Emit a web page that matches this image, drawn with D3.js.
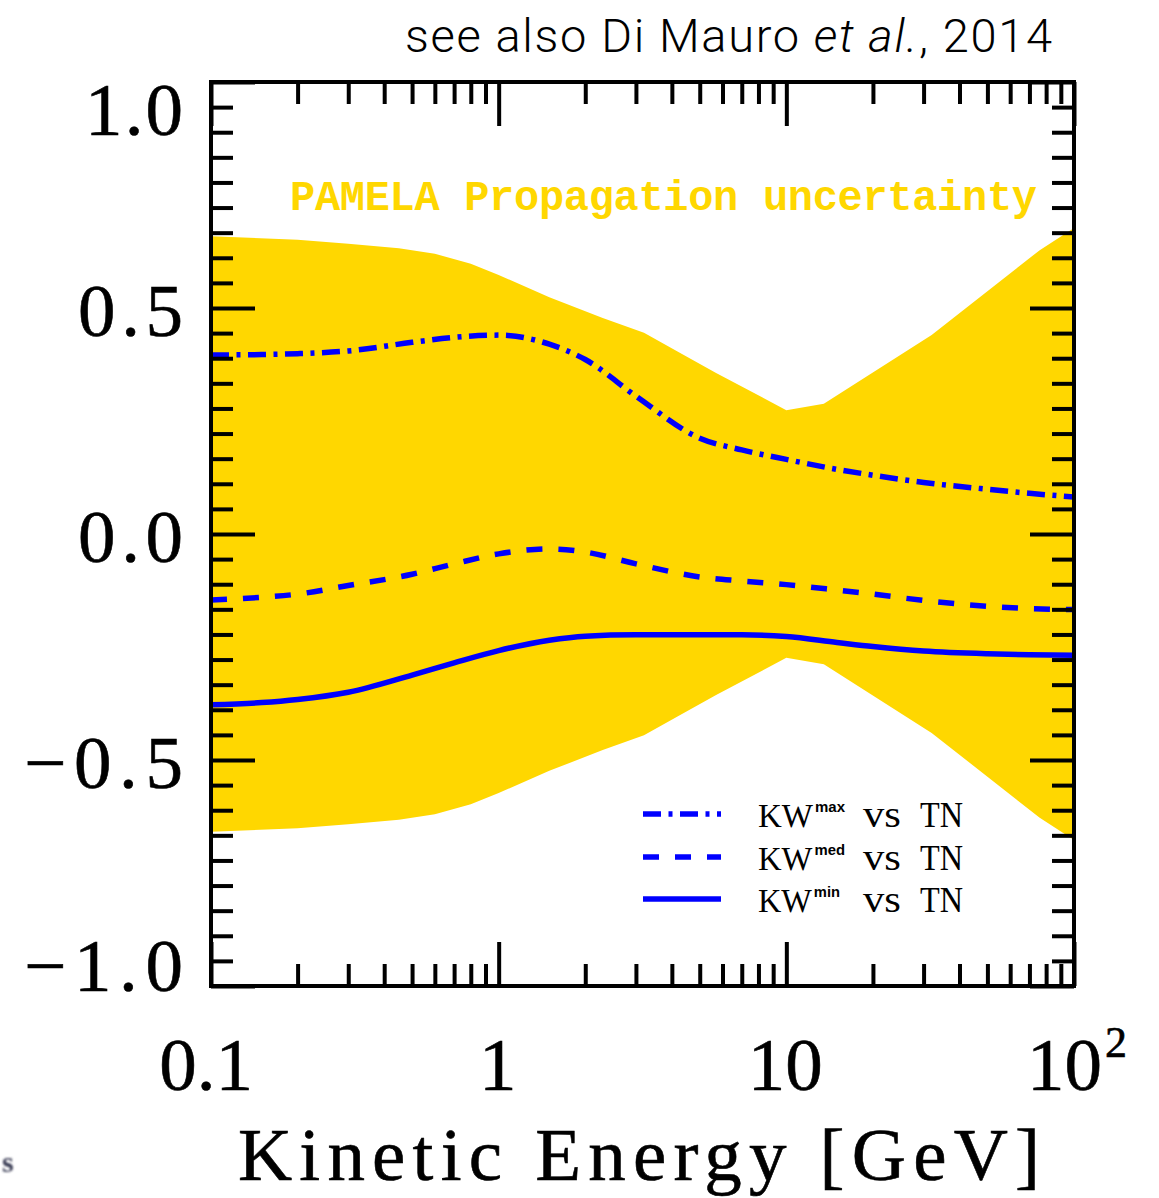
<!DOCTYPE html>
<html>
<head>
<meta charset="utf-8">
<script src="https://cdn.jsdelivr.net/npm/d3@7"></script>
<style>
  html, body { margin: 0; padding: 0; background: #ffffff; }
  svg { display: block; }
</style>
</head>
<body>
<svg id="chart" width="1159" height="1198"></svg>
<script>
// Kinetic energy grid [GeV] for the three KW vs TN curves
const energy = [0.1, 0.15, 0.2, 0.3, 0.5, 0.7, 1, 1.5, 2, 3, 5, 7, 10, 15, 20, 30, 50, 70, 100];
const kwMax = [0.396, 0.397, 0.399, 0.405, 0.424, 0.435, 0.440, 0.420, 0.386, 0.305, 0.212, 0.186, 0.165, 0.143, 0.130, 0.114, 0.099, 0.090, 0.082];
const kwMed = [-0.146, -0.140, -0.133, -0.114, -0.089, -0.066, -0.044, -0.033, -0.040, -0.066, -0.095, -0.104, -0.112, -0.124, -0.133, -0.147, -0.160, -0.165, -0.167];
const kwMin = [-0.378, -0.373, -0.366, -0.350, -0.312, -0.285, -0.258, -0.235, -0.226, -0.223, -0.223, -0.223, -0.227, -0.240, -0.249, -0.259, -0.265, -0.267, -0.268];

// Propagation uncertainty band
const bandEnergy = [0.1, 0.2, 0.3, 0.45, 0.6, 0.8, 1, 1.5, 2.3, 3.2, 4.2, 5.7, 10, 13.5, 32, 76, 100];
const bandUpper = [0.659, 0.651, 0.642, 0.632, 0.620, 0.598, 0.573, 0.524, 0.478, 0.445, 0.403, 0.356, 0.274, 0.288, 0.440, 0.628, 0.677];
const bandLower = [-0.659, -0.651, -0.642, -0.632, -0.620, -0.598, -0.573, -0.524, -0.478, -0.445, -0.403, -0.356, -0.274, -0.288, -0.440, -0.628, -0.677];

// Axis ticks and labels
const xTickValues = [0.1, 1, 10, 100];
const xTickLabels = ["0.1", "1", "10", "10"];
const xTickSups = ["", "", "", "2"];
const yTickValues = [1, 0.5, 0, -0.5, -1];
const yTickLabels = ["1.0", "0.5", "0.0", "\u22120.5", "\u22121.0"];

// Legend entries
const legendBase = ["KW", "KW", "KW"];
const legendSups = ["max", "med", "min"];
const legendRest = ["vs", "vs", "vs"];
const legendRef = ["TN", "TN", "TN"];

const svg = d3.select("#chart");
const L = 211, R = 1074, T = 82, B = 986;

const x = d3.scaleLog().domain([0.1, 100]).range([L, R]);
const y = d3.scaleLinear().domain([-1, 1]).range([B, T]);

const gold = "#FFD700";
const blue = "#0000FF";

const defs = svg.append("defs");
defs.append("clipPath").attr("id", "plotClip")
  .append("rect").attr("x", L).attr("y", T).attr("width", R - L).attr("height", B - T);
defs.append("filter").attr("id", "soft")
  .append("feGaussianBlur").attr("stdDeviation", 0.9);

// Band
const bandRows = bandEnergy.map((e, i) => ({ e, lo: bandLower[i], hi: bandUpper[i] }));
svg.append("path")
  .datum(bandRows)
  .attr("clip-path", "url(#plotClip)")
  .attr("fill", gold)
  .attr("d", d3.area().x(d => x(d.e)).y0(d => y(d.lo)).y1(d => y(d.hi)).curve(d3.curveLinear));

// Curves
const dashDot = "18,7.5,4,7.5";
const dashed = "16,16";
const curveDefs = [
  { values: kwMax, dash: dashDot },
  { values: kwMed, dash: dashed },
  { values: kwMin, dash: null }
];
const line = d3.line().x(d => x(d.e)).y(d => y(d.v)).curve(d3.curveMonotoneX);
curveDefs.forEach(c => {
  svg.append("path")
    .datum(energy.map((e, i) => ({ e, v: c.values[i] })))
    .attr("clip-path", "url(#plotClip)")
    .attr("fill", "none")
    .attr("stroke", blue)
    .attr("stroke-width", 5.5)
    .attr("stroke-dasharray", c.dash)
    .attr("d", line);
});

// Ticks
const majorLen = 44, minorLen = 22, tickW = 4;
const yMinor = d3.range(-18, 19).filter(k => k % 9 !== 0).map(k => k / 18);
const yMajor = [-1, -0.5, 0, 0.5, 1];
const xMajor = [0.1, 1, 10, 100];
const xMinor = [];
[0.1, 1, 10].forEach(dec => { for (let m = 2; m <= 9; m++) xMinor.push(+(dec * m).toPrecision(3)); });

function tickAxis(axisFn, scale, vals, len, tx, ty) {
  const g = svg.append("g")
    .attr("transform", `translate(${tx},${ty})`)
    .call(axisFn(scale).tickValues(vals).tickSize(len).tickFormat(""));
  g.select(".domain").remove();
  g.selectAll(".tick line").attr("stroke", "#000").attr("stroke-width", tickW);
  return g;
}
tickAxis(d3.axisRight, y, yMinor, minorLen, L, 0);
tickAxis(d3.axisRight, y, yMajor, majorLen, L, 0);
tickAxis(d3.axisLeft, y, yMinor, minorLen, R, 0);
tickAxis(d3.axisLeft, y, yMajor, majorLen, R, 0);
tickAxis(d3.axisBottom, x, xMinor, minorLen, 0, T);
tickAxis(d3.axisBottom, x, xMajor, majorLen, 0, T);
tickAxis(d3.axisTop, x, xMinor, minorLen, 0, B);
tickAxis(d3.axisTop, x, xMajor, majorLen, 0, B);

// Frame
svg.append("rect")
  .attr("x", L).attr("y", T).attr("width", R - L).attr("height", B - T)
  .attr("fill", "none").attr("stroke", "#000").attr("stroke-width", 4);

const serif = "'Liberation Serif', 'DejaVu Serif', serif";

// Y tick labels (end labels sit inside the frame span)
const yLabelWidths = [98, 105, 105, 159, 159];
const yEndShift = { "1": 25, "-1": -23 };
svg.append("g").selectAll("text")
  .data(yTickValues)
  .join("text")
  .attr("x", 183)
  .attr("y", d => y(d) + 28 + (yEndShift[String(d)] || 0))
  .attr("text-anchor", "end")
  .attr("font-family", serif)
  .attr("font-size", 75)
  .attr("fill", "#000")
  .attr("stroke", "#000").attr("stroke-width", 0.6)
  .attr("textLength", (d, i) => yLabelWidths[i])
  .attr("lengthAdjust", "spacing")
  .text((d, i) => yTickLabels[i]);

// X tick labels
const xg = svg.append("g").selectAll("text")
  .data(xTickValues)
  .join("text")
  .attr("x", (d, i) => x(d) + (i === 0 ? -5 : (i === 3 ? 3 : -1)))
  .attr("y", 1090)
  .attr("text-anchor", "middle")
  .attr("font-family", serif)
  .attr("font-size", 75)
  .attr("fill", "#000")
  .attr("stroke", "#000").attr("stroke-width", 0.6);
xg.append("tspan").text((d, i) => xTickLabels[i]);
xg.append("tspan")
  .attr("font-size", 44)
  .attr("dy", -33)
  .attr("dx", 3)
  .text((d, i) => xTickSups[i]);

// X axis title
svg.append("text")
  .attr("x", 238).attr("y", 1180)
  .attr("font-family", serif)
  .attr("font-size", 75)
  .attr("fill", "#000")
  .attr("stroke", "#000").attr("stroke-width", 0.6)
  .attr("textLength", 802)
  .attr("lengthAdjust", "spacing")
  .text("Kinetic Energy [GeV]");

// Band caption
svg.append("text")
  .attr("x", 290).attr("y", 210)
  .attr("font-family", "'Liberation Mono', 'DejaVu Sans Mono', monospace")
  .attr("font-weight", "bold")
  .attr("font-size", 42)
  .attr("fill", gold)
  .attr("textLength", 747)
  .attr("lengthAdjust", "spacing")
  .text("PAMELA Propagation uncertainty");

// Reference note
const note = svg.append("text")
  .attr("x", 405).attr("y", 52)
  .attr("font-family", "Roboto, 'Liberation Sans', Arial, sans-serif")
  .attr("font-weight", 300)
  .attr("font-size", 47)
  .attr("fill", "#000")
  .attr("textLength", 647)
  .attr("lengthAdjust", "spacing");
note.append("tspan").text("see also Di Mauro ");
note.append("tspan").attr("font-style", "italic").text("et al.");
note.append("tspan").text(", 2014");

// Legend
const legendRowsY = [814, 857, 899];
const legendDash = [dashDot, dashed, null];
const legendHeadWidths = [87, 87, 82];
legendRowsY.forEach((ry, i) => {
  svg.append("line")
    .attr("x1", 643).attr("x2", 721).attr("y1", ry).attr("y2", ry)
    .attr("stroke", blue).attr("stroke-width", 5.5)
    .attr("stroke-dasharray", legendDash[i]);
  const base = ry + 13;
  const head = svg.append("text")
    .attr("x", 758).attr("y", base)
    .attr("font-family", serif).attr("font-size", 33).attr("fill", "#000")
    .attr("textLength", legendHeadWidths[i]).attr("lengthAdjust", "spacingAndGlyphs");
  head.append("tspan").text(legendBase[i]);
  head.append("tspan")
    .attr("dx", 2).attr("dy", -15)
    .attr("font-family", "'Liberation Sans', Arial, sans-serif")
    .attr("font-weight", "bold").attr("font-size", 15)
    .text(legendSups[i]);
  svg.append("text")
    .attr("x", 863).attr("y", base)
    .attr("font-family", serif).attr("font-size", 37).attr("fill", "#000")
    .attr("textLength", 38).attr("lengthAdjust", "spacingAndGlyphs")
    .text(legendRest[i]);
  svg.append("text")
    .attr("x", 920).attr("y", base)
    .attr("font-family", serif).attr("font-size", 35).attr("fill", "#000")
    .attr("textLength", 43).attr("lengthAdjust", "spacingAndGlyphs")
    .text(legendRef[i]);
});

// Stray slide text at the lower-left edge
svg.append("text")
  .attr("x", 2).attr("y", 1172)
  .attr("font-family", serif)
  .attr("font-weight", "bold")
  .attr("font-size", 30)
  .attr("fill", "#3a3c55")
  .attr("filter", "url(#soft)")
  .text("s");
</script>
</body>
</html>
